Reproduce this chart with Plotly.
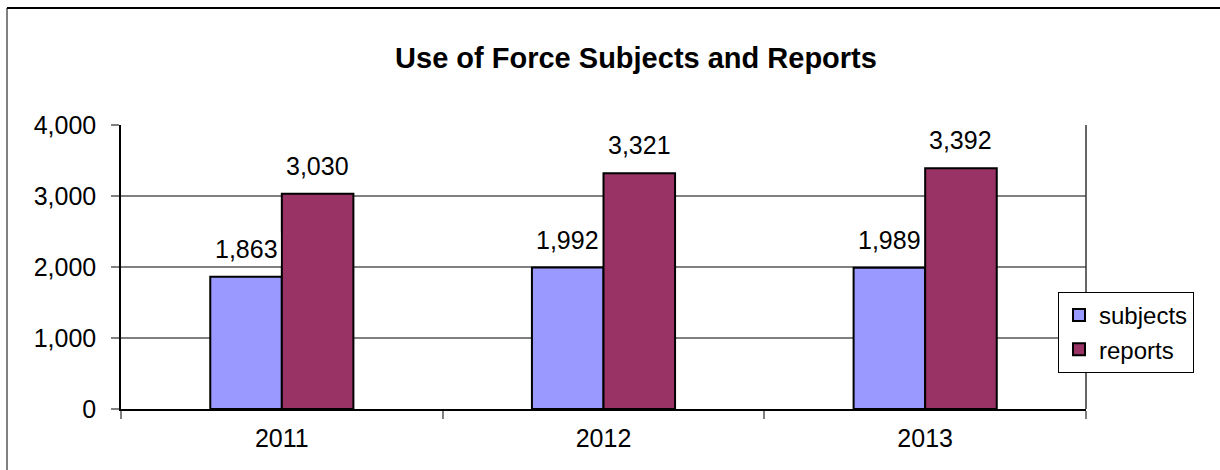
import plotly.graph_objects as go

categories = ["2011", "2012", "2013"]
subjects = [1863, 1992, 1989]
reports = [3030, 3321, 3392]
series_names = ["subjects", "reports"]
y_ticks = [0, 1000, 2000, 3000, 4000]
y_tick_labels = ["0", "1,000", "2,000", "3,000", "4,000"]

FONT = "Liberation Sans, Arial, sans-serif"
FS = 25
BARGAP = 0.555
colors = ["#9999FF", "#993366"]

fig = go.Figure()
for name, vals, col in zip(series_names, [subjects, reports], colors):
    fig.add_trace(go.Bar(
        x=categories, y=vals, name=name,
        marker=dict(color=col, line=dict(color="#000000", width=2)),
    ))

# data labels with white background (hide gridlines behind)
half = (1 - BARGAP) / 4
for i, vals in enumerate([subjects, reports]):
    off = -half if i == 0 else half
    for j, v in enumerate(vals):
        fig.add_annotation(
            x=j + off, y=v, xref="x", yref="y",
            text=f"{v:,}", showarrow=False, yanchor="bottom",
            yshift=11, bgcolor="white", borderpad=2,
            font=dict(family=FONT, size=FS, color="#000000"),
        )

# outer chart border (left and top visible)
fig.add_shape(type="line", xref="paper", yref="paper",
              x0=-114/965, x1=-114/965, y0=1 + 117/284, y1=-1,
              line=dict(color="#808080", width=2))
fig.add_shape(type="line", xref="paper", yref="paper",
              x0=-114/965, x1=2, y0=1 + 117/284, y1=1 + 117/284,
              line=dict(color="#000000", width=2))

fig.update_layout(
    width=1220, height=470,
    margin=dict(l=121, r=134, t=125, b=61),
    paper_bgcolor="white", plot_bgcolor="white",
    barmode="group", bargap=BARGAP, bargroupgap=0,
    font=dict(family=FONT, size=FS, color="#000000"),
    title=dict(text="<b>Use of Force Subjects and Reports</b>",
               x=636/1220, xanchor="center", xref="container",
               y=1 - 58/470, yanchor="middle", yref="container",
               font=dict(family=FONT, size=29, color="#000000")),
    showlegend=True,
    legend=dict(x=(1058 - 121) / 965, y=(409 - 292) / 284,
                xanchor="left", yanchor="top",
                bgcolor="white", bordercolor="#000000", borderwidth=1,
                font=dict(family=FONT, size=24, color="#000000"),
                itemwidth=30, tracegroupgap=0),
    xaxis=dict(type="category", showgrid=False,
               showline=True, linecolor="#000000", linewidth=1.5,
               mirror=False, ticks="outside", tickson="boundaries",
               ticklen=8, tickcolor="#808080", tickwidth=1.5,
               ticklabelstandoff=6,
               tickfont=dict(family=FONT, size=FS)),
    yaxis=dict(range=[0, 4000], tickvals=y_ticks, ticktext=y_tick_labels,
               showgrid=True, gridcolor="#808080", gridwidth=1.5,
               showline=True, linecolor="#000000", linewidth=1.5,
               ticks="outside", ticklen=8, tickcolor="#808080", tickwidth=1.5,
               ticklabelstandoff=10,
               tickfont=dict(family=FONT, size=FS), zeroline=False),
)
# right border of plot area
fig.add_shape(type="line", xref="paper", yref="paper",
              x0=1, x1=1, y0=0, y1=1,
              line=dict(color="#333333", width=1.5))

fig.write_html("out.html")
